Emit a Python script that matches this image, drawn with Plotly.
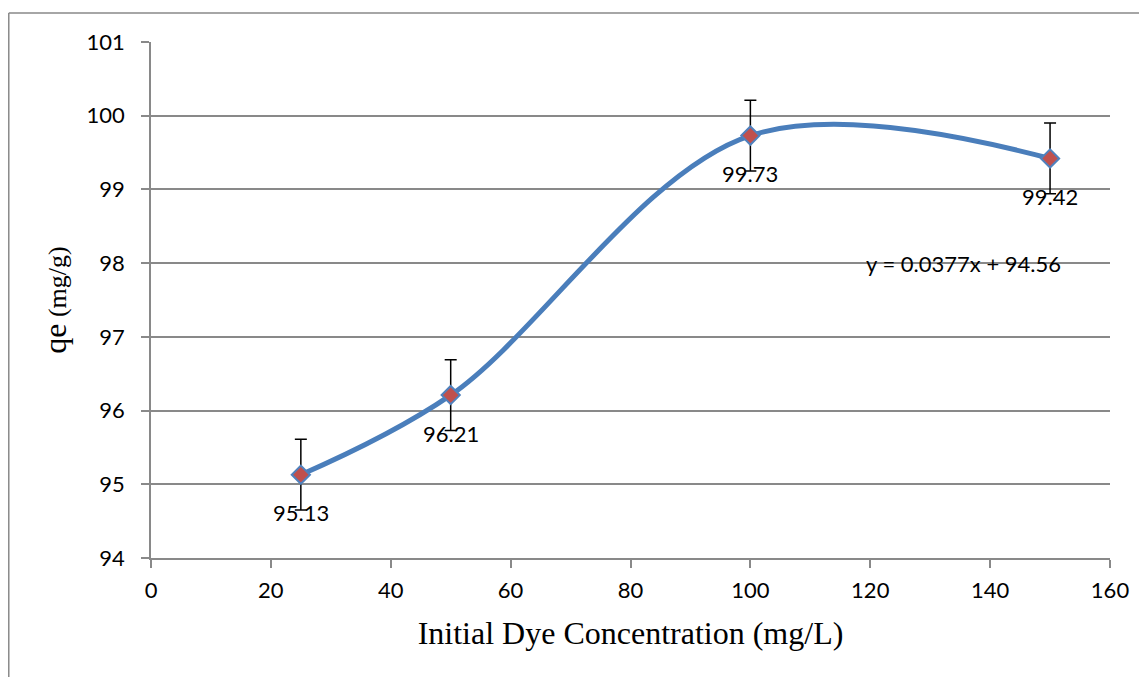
import plotly.graph_objects as go

conc = [25, 50, 100, 150]
qe = [95.13, 96.21, 99.73, 99.42]
err = [0.48, 0.48, 0.48, 0.48]
labels = ["95.13", "96.21", "99.73", "99.42"]
x_ticks = [0, 20, 40, 60, 80, 100, 120, 140, 160]
y_ticks = [94, 95, 96, 97, 98, 99, 100, 101]
equation = "y = 0.0377x + 94.56"
eq_pos = (119, 98)

SANS = "Lato, Noto Sans, sans-serif"
SERIF = "Liberation Serif, Times New Roman, serif"
GRAY = "#898989"

fig = go.Figure()
fig.add_trace(go.Scatter(
    x=conc, y=qe, mode="lines",
    line=dict(color="#4A7EBB", width=5, shape="spline", smoothing=1.0),
    hoverinfo="skip", showlegend=False))
fig.add_trace(go.Scatter(
    x=conc, y=qe, mode="markers",
    marker=dict(symbol="diamond", size=14, color="#C0504D",
                line=dict(color="#4F81BD", width=2)),
    error_y=dict(type="data", array=err, visible=True, color="black",
                 thickness=1.5, width=6),
    showlegend=False))

for xv, yv, t in zip(conc, qe, labels):
    fig.add_annotation(x=xv, y=yv, text=t, showarrow=False, yshift=-38,
                       font=dict(family=SANS, size=22, color="black"))

fig.add_annotation(x=eq_pos[0], y=eq_pos[1], text=equation, showarrow=False, xanchor="left",
                   font=dict(family=SANS, size=22, color="black"))

# chart border (outer frame)
fig.add_shape(type="line", xref="paper", yref="paper", x0=-0.1483, x1=1.06, y0=1.0562, y1=1.0562,
              line=dict(color=GRAY, width=1.5))
fig.add_shape(type="line", xref="paper", yref="paper", x0=-0.1483, x1=-0.1483, y0=1.0562, y1=-0.3,
              line=dict(color=GRAY, width=1.5))

fig.update_layout(
    width=1139, height=669,
    margin=dict(l=143, r=37, t=34, b=119),
    paper_bgcolor="white", plot_bgcolor="white",
    font=dict(family=SANS, size=22, color="black"),
    xaxis=dict(range=[0, 160], tickvals=x_ticks, showgrid=False, zeroline=False,
               showline=True, linecolor=GRAY, linewidth=1.5,
               ticks="outside", ticklen=8, tickcolor=GRAY, tickwidth=1.5,
               ticklabelstandoff=4,
               title=dict(text="Initial Dye Concentration (mg/L)",
                          font=dict(family=SERIF, size=32),
                          standoff=19)),
    yaxis=dict(range=[94, 101], tickvals=y_ticks, showgrid=True, gridcolor=GRAY, gridwidth=1.5,
               zeroline=False, showline=True, linecolor=GRAY, linewidth=1.5,
               ticks="outside", ticklen=8, tickcolor=GRAY, tickwidth=1.5,
               ticklabelstandoff=12,
               title=dict(text="<span style='font-size:32px'>qe</span> (mg/g)",
                          font=dict(family=SERIF, size=26),
                          standoff=12)),
)

fig.write_html("out.html")
